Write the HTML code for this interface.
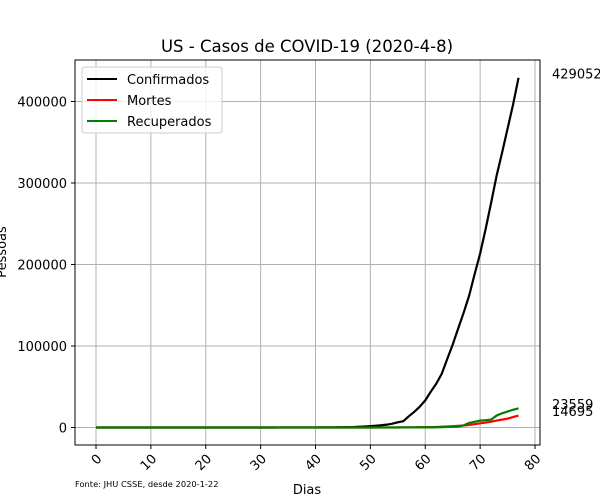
<!DOCTYPE html>
<html><head><meta charset="utf-8"><style>
body{margin:0;background:#fff}
svg{display:block;font-family:"DejaVu Sans","Liberation Sans",sans-serif}
</style></head><body>
<svg id="chart" width="600" height="500">
<rect x="0" y="0" width="600" height="500" fill="#fff"/>
<text x="307" y="52" font-size="16.5" text-anchor="middle">US - Casos de COVID-19 (2020-4-8)</text>
<g id="grid"></g><g id="axes"></g><g id="series"></g><g id="notes"></g>
<text x="307" y="494" font-size="13" text-anchor="middle">Dias</text>
<text transform="translate(6,252) rotate(-90)" font-size="13" text-anchor="middle">Pessoas</text>
<text x="75" y="487" font-size="8.3">Fonte: JHU CSSE, desde 2020-1-22</text>
<g>
<rect x="82" y="67" width="140" height="66" rx="3" fill="#fff" fill-opacity="0.8" stroke="#ccc"/>
<line x1="87" y1="79" x2="117" y2="79" stroke="#000" stroke-width="2"/>
<text x="127" y="84" font-size="13">Confirmados</text>
<line x1="87" y1="100" x2="117" y2="100" stroke="red" stroke-width="2"/>
<text x="127" y="105" font-size="13">Mortes</text>
<line x1="87" y1="121" x2="117" y2="121" stroke="green" stroke-width="2"/>
<text x="127" y="126" font-size="13">Recuperados</text>
</g>
</svg>
<script>
const confirmed=[1,1,2,2,5,5,5,5,5,7,8,8,11,11,11,11,11,11,11,11,12,12,13,13,13,13,13,13,13,13,15,15,15,51,51,57,58,60,68,74,98,118,149,217,262,402,518,583,959,1281,1663,2179,2727,3499,4632,6421,7783,13747,19273,25600,33276,43847,53740,65778,83836,101657,121478,140886,161807,188172,213372,243453,275586,308850,337072,366667,396223,429052];
const deaths=[0,0,0,0,0,0,0,0,0,0,0,0,0,0,0,0,0,0,0,0,0,0,0,0,0,0,0,0,0,0,0,0,0,0,0,0,0,0,1,1,6,7,11,12,14,17,21,22,28,36,40,47,54,63,85,108,118,200,244,307,427,552,706,942,1209,1581,2026,2467,3170,4053,5137,6095,7101,8490,9648,10871,12844,14695];
const recovered=[0,0,0,0,0,0,0,0,0,0,0,0,0,0,0,0,0,0,0,0,0,0,0,0,0,0,0,0,0,0,3,3,3,3,3,3,3,3,7,7,7,7,7,7,7,7,7,8,8,8,8,12,12,12,17,17,105,106,108,147,171,178,348,361,681,869,1072,2665,5644,7024,8474,9001,9707,14652,17448,19581,21763,23559];
const xTicks=[0,10,20,30,40,50,60,70,80];
const yTicks=[0,100000,200000,300000,400000];
const notes=[429052,23559,14695];
const NS="http://www.w3.org/2000/svg";
const L=75,R=540,T=60,B=445;
const xs=d=>96+d*(535-96)/80;
const ys=v=>427.5-v*(427.5-101.5)/400000;
function mk(tag,attrs,parent){const e=document.createElementNS(NS,tag);for(const k in attrs)e.setAttribute(k,attrs[k]);parent.appendChild(e);return e;}
const grid=document.getElementById('grid'),axes=document.getElementById('axes'),ser=document.getElementById('series'),nt=document.getElementById('notes');
xTicks.forEach(t=>{const x=xs(t);
 const g=mk('line',{x1:x,x2:x,y1:T,y2:B,stroke:'#b0b0b0','stroke-width':1},grid);
 
 
 mk('line',{x1:x,x2:x,y1:B,y2:B+4,stroke:'#000'},axes);
 const tx=mk('text',{transform:`translate(${x+4},${B+12}) rotate(-45)`,'font-size':13,'text-anchor':'end','dominant-baseline':'middle'},axes);
 tx.textContent=t;
 
 
});
yTicks.forEach(t=>{const y=ys(t);
 const g=mk('line',{x1:L,x2:R,y1:y,y2:y,stroke:'#b0b0b0','stroke-width':1},grid);
 
 
 mk('line',{x1:L-4,x2:L,y1:y,y2:y,stroke:'#000'},axes);
 const tx=mk('text',{x:L-8,y:y+5,'font-size':13,'text-anchor':'end'},axes);
 tx.textContent=t;
 
 
});
const fr=mk('rect',{x:L,y:T,width:R-L,height:B-T,fill:'none',stroke:'#000','stroke-width':1},axes);


function line(arr,color,name){
 const p=mk('polyline',{points:arr.map((v,i)=>xs(i)+','+ys(v)).join(' '),fill:'none',stroke:color,'stroke-width':2.2,'stroke-linejoin':'round'},ser);
 
 
}
line(confirmed,'#000','confirmados-line');
line(deaths,'red','mortes-line');
line(recovered,'green','recuperados-line');
notes.forEach(v=>{
 const tx=mk('text',{x:552,y:ys(v)+0.5,'font-size':13},nt);
 tx.textContent=v;
 
 
});
</script>
</body></html>
